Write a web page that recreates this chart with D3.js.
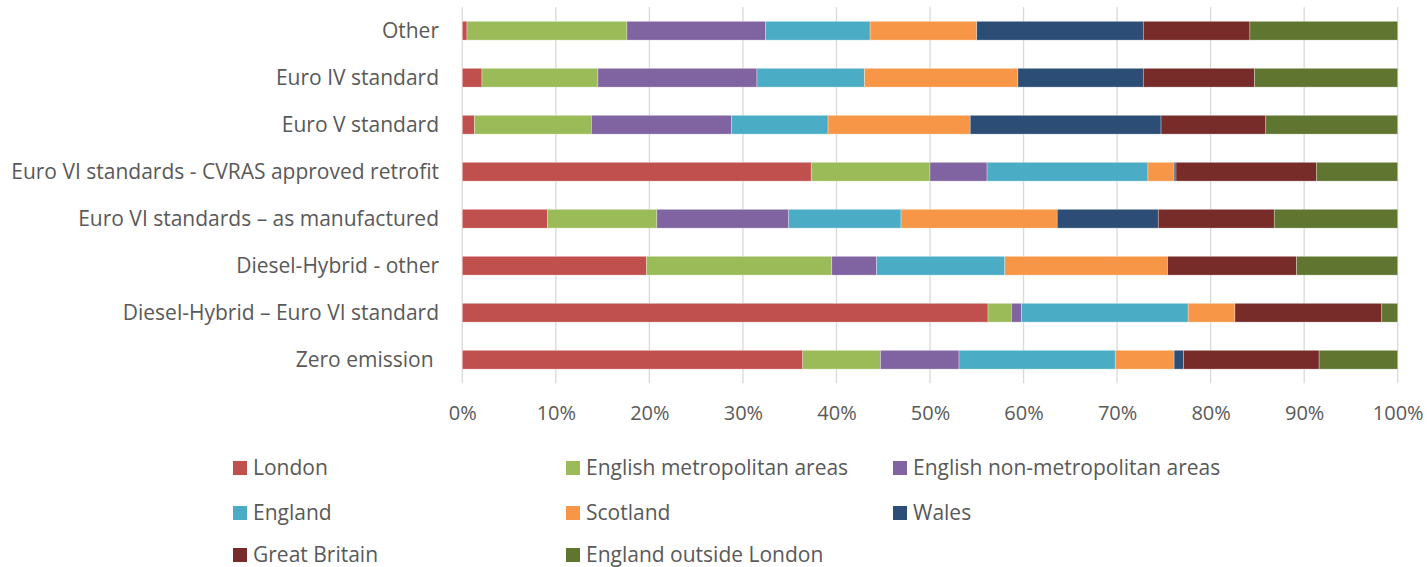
<!DOCTYPE html>
<html>
<head>
<meta charset="utf-8">
<script src="https://cdn.jsdelivr.net/npm/d3@7/dist/d3.min.js"></script>
<style>
  html, body { margin: 0; padding: 0; background: #fff; }
  svg { display: block; }
  text { font-family: "Open Sans", "Noto Sans", sans-serif; fill: #595959; white-space: pre; }
</style>
</head>
<body>
<svg id="chart" width="1427" height="567"></svg>
<script>
// Bus emission categories (top to bottom)
const categories = [
  "Other",
  "Euro IV standard",
  "Euro V standard",
  "Euro VI standards - CVRAS approved retrofit",
  "Euro VI standards \u2013 as manufactured",
  "Diesel-Hybrid - other",
  "Diesel-Hybrid \u2013 Euro VI standard",
  "Zero emission "
];

// Regions (stack order, left to right)
const seriesNames = [
  "London",
  "English metropolitan areas",
  "English non-metropolitan areas",
  "England",
  "Scotland",
  "Wales",
  "Great Britain",
  "England outside London"
];

// Share of each category by region, in percent (one array per region, same order as categories)
const london    = [0.5,  2.1,  1.3, 37.3,  9.1, 19.7, 56.2, 36.4];
const engMet    = [17.1, 12.4, 12.5, 12.7, 11.7, 19.8,  2.5,  8.3];
const engNonMet = [14.8, 17.0, 15.0,  6.1, 14.1,  4.8,  1.1,  8.4];
const england   = [11.2, 11.5, 10.3, 17.2, 12.0, 13.7, 17.8, 16.7];
const scotland  = [11.4, 16.4, 15.2,  2.8, 16.7, 17.4,  5.0,  6.3];
const wales     = [17.8, 13.4, 20.4,  0.2, 10.8,  0.0,  0.0,  1.0];
const gb        = [11.4, 11.9, 11.2, 15.0, 12.4, 13.8, 15.7, 14.5];
const engOutLon = [15.8, 15.3, 14.1,  8.7, 13.2, 10.8,  1.7,  8.4];

const tickValues = [0, 0.1, 0.2, 0.3, 0.4, 0.5, 0.6, 0.7, 0.8, 0.9, 1.0];

const colors = ["#C0504D", "#9BBB59", "#8064A2", "#4BACC6", "#F79646", "#2C4D75", "#772C2A", "#5F7530"];

const seriesValues = [london, engMet, engNonMet, england, scotland, wales, gb, engOutLon];

// Build a row table for d3.stack, normalised to 100%
const rows = categories.map((c, i) => {
  const row = { category: c };
  const total = d3.sum(seriesValues, s => s[i]);
  seriesNames.forEach((n, j) => { row[n] = seriesValues[j][i] / total; });
  return row;
});

const stacked = d3.stack().keys(seriesNames)(rows);

const svg = d3.select("#chart");
const plot = { left: 462.3, right: 1397.7, top: 7.2, bottom: 383.2 };

const x = d3.scaleLinear().domain([0, 1]).range([plot.left, plot.right]);
const y = d3.scaleBand().domain(categories).range([plot.top, plot.bottom]).paddingInner(0.6).paddingOuter(0.3);

// Vertical gridlines
svg.append("g")
  .selectAll("line")
  .data(tickValues)
  .join("line")
  .attr("x1", d => x(d)).attr("x2", d => x(d))
  .attr("y1", plot.top).attr("y2", plot.bottom)
  .attr("stroke", "#D9D9D9")
  .attr("stroke-width", 1.3);

// Stacked bars
svg.append("g")
  .selectAll("g")
  .data(stacked)
  .join("g")
  .attr("fill", (d, i) => colors[i])
  .selectAll("rect")
  .data(d => d.map(v => ({ v, cat: v.data.category })))
  .join("rect")
  .attr("x", d => x(d.v[0]))
  .attr("width", d => Math.max(0, x(d.v[1]) - x(d.v[0])))
  .attr("y", d => y(d.cat))
  .attr("height", y.bandwidth())
  .attr("stroke", "#ffffff")
  .attr("stroke-opacity", 0.5)
  .attr("stroke-width", d => (d.v[1] - d.v[0]) > 0 ? 0.6 : 0);

// Category labels
svg.append("g")
  .selectAll("text")
  .data(categories)
  .join("text")
  .attr("x", 439)
  .attr("y", d => y(d) + y.bandwidth() / 2)
  .attr("dy", "0.35em")
  .attr("text-anchor", "end")
  .attr("font-size", "21px")
  .text(d => d);

// Percentage axis labels
const xAxis = d3.axisBottom(x).tickValues(tickValues).tickFormat(d3.format(".0%")).tickSize(0).tickPadding(0);
const ax = svg.append("g").attr("transform", `translate(0, ${plot.bottom})`).call(xAxis);
ax.select(".domain").remove();
ax.selectAll("text")
  .attr("y", 30)
  .attr("dy", "0.35em")
  .attr("font-size", "20px")
  .attr("font-family", "\"Open Sans\", \"Noto Sans\", sans-serif")
  .attr("fill", "#595959");

// Legend: three columns, three rows
const legendCols = [233, 566, 893];
const legendRows = [468, 513, 555];
const legend = svg.append("g")
  .selectAll("g")
  .data(seriesNames)
  .join("g")
  .attr("transform", (d, i) => `translate(${legendCols[i % 3]}, ${legendRows[Math.floor(i / 3)]})`);

legend.append("rect")
  .attr("x", 0).attr("y", -7)
  .attr("width", 14).attr("height", 14)
  .attr("fill", (d, i) => colors[i]);

legend.append("text")
  .attr("x", 20)
  .attr("y", 0)
  .attr("dy", "0.35em")
  .attr("font-size", "21px")
  .text(d => d);
</script>
</body>
</html>
